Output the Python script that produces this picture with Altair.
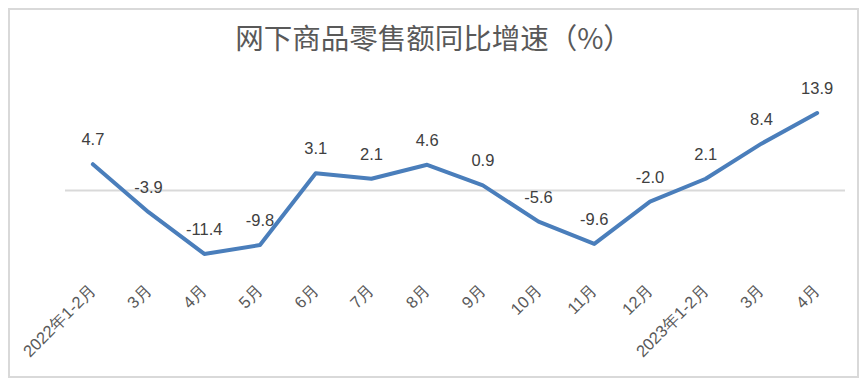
import altair as alt
import pandas as pd

categories = ["2022年1-2月", "3月", "4月", "5月", "6月", "7月", "8月", "9月",
              "10月", "11月", "12月", "2023年1-2月", "3月 ", "4月 "]
values = [4.7, -3.9, -11.4, -9.8, 3.1, 2.1, 4.6, 0.9, -5.6, -9.6, -2.0, 2.1, 8.4, 13.9]
title_text = "网下商品零售额同比增速（%）"

df = pd.DataFrame({"cat": categories, "val": values,
                   "label": [f"{v:.1f}" for v in values]})

W, H = 780, 195
PL, PT, PR, PB = 57, 71, 14, 104

x = alt.X("cat:N", sort=categories, title=None,
          scale=alt.Scale(paddingInner=0, paddingOuter=0),
          axis=alt.Axis(labelAngle=-45, labelAlign="right", labelBaseline="middle",
                        labelFont="Liberation Sans", labelFontSize=16.5, labelColor="#595959",
                        ticks=False, domain=False, grid=False, labelPadding=13,
                        labelExpr="trim(datum.label)"))
y = alt.Y("val:Q", scale=alt.Scale(domain=[-15, 20], nice=False), axis=None)

base = alt.Chart(df).encode(x=x, y=y)

zero = alt.Chart(pd.DataFrame({"z": [0]})).mark_rule(color="#d9d9d9", strokeWidth=2).encode(
    y=alt.Y("z:Q", scale=alt.Scale(domain=[-15, 20], nice=False), axis=None),
    x=alt.value(0), x2=alt.value(W))

line = base.mark_line(color="#4a7ebb", strokeWidth=4, strokeCap="round", strokeJoin="round")

labels = base.mark_text(dy=-24, fontSize=16.5, font="Liberation Sans", color="#404040").encode(
    text="label:N")

border = alt.Chart(pd.DataFrame({"a": [0]})).mark_rect(
    fill=None, stroke="#d9d9d9", strokeWidth=2).encode(
    x=alt.value(-PL + 1), x2=alt.value(W + PR - 1),
    y=alt.value(-PT + 1), y2=alt.value(H + PB - 1))

title = alt.Chart(pd.DataFrame({"t": [title_text]})).mark_text(
    fontSize=28.5, font="Noto Sans CJK SC", color="#595959", baseline="middle",
    align="center").encode(
    text="t:N", x=alt.value((W + PL + PR) / 2 - PL), y=alt.value(40 - 8 - PT))

chart = alt.layer(border, zero, line, labels, title).properties(
    width=W, height=H,
    background="white",
    autosize=alt.AutoSizeParams(type="none"),
    padding={"left": PL, "top": PT, "right": PR, "bottom": PB},
).configure_view(strokeWidth=0, stroke=None)

chart.save("out.html", embed_options={"renderer": "svg", "actions": False})
